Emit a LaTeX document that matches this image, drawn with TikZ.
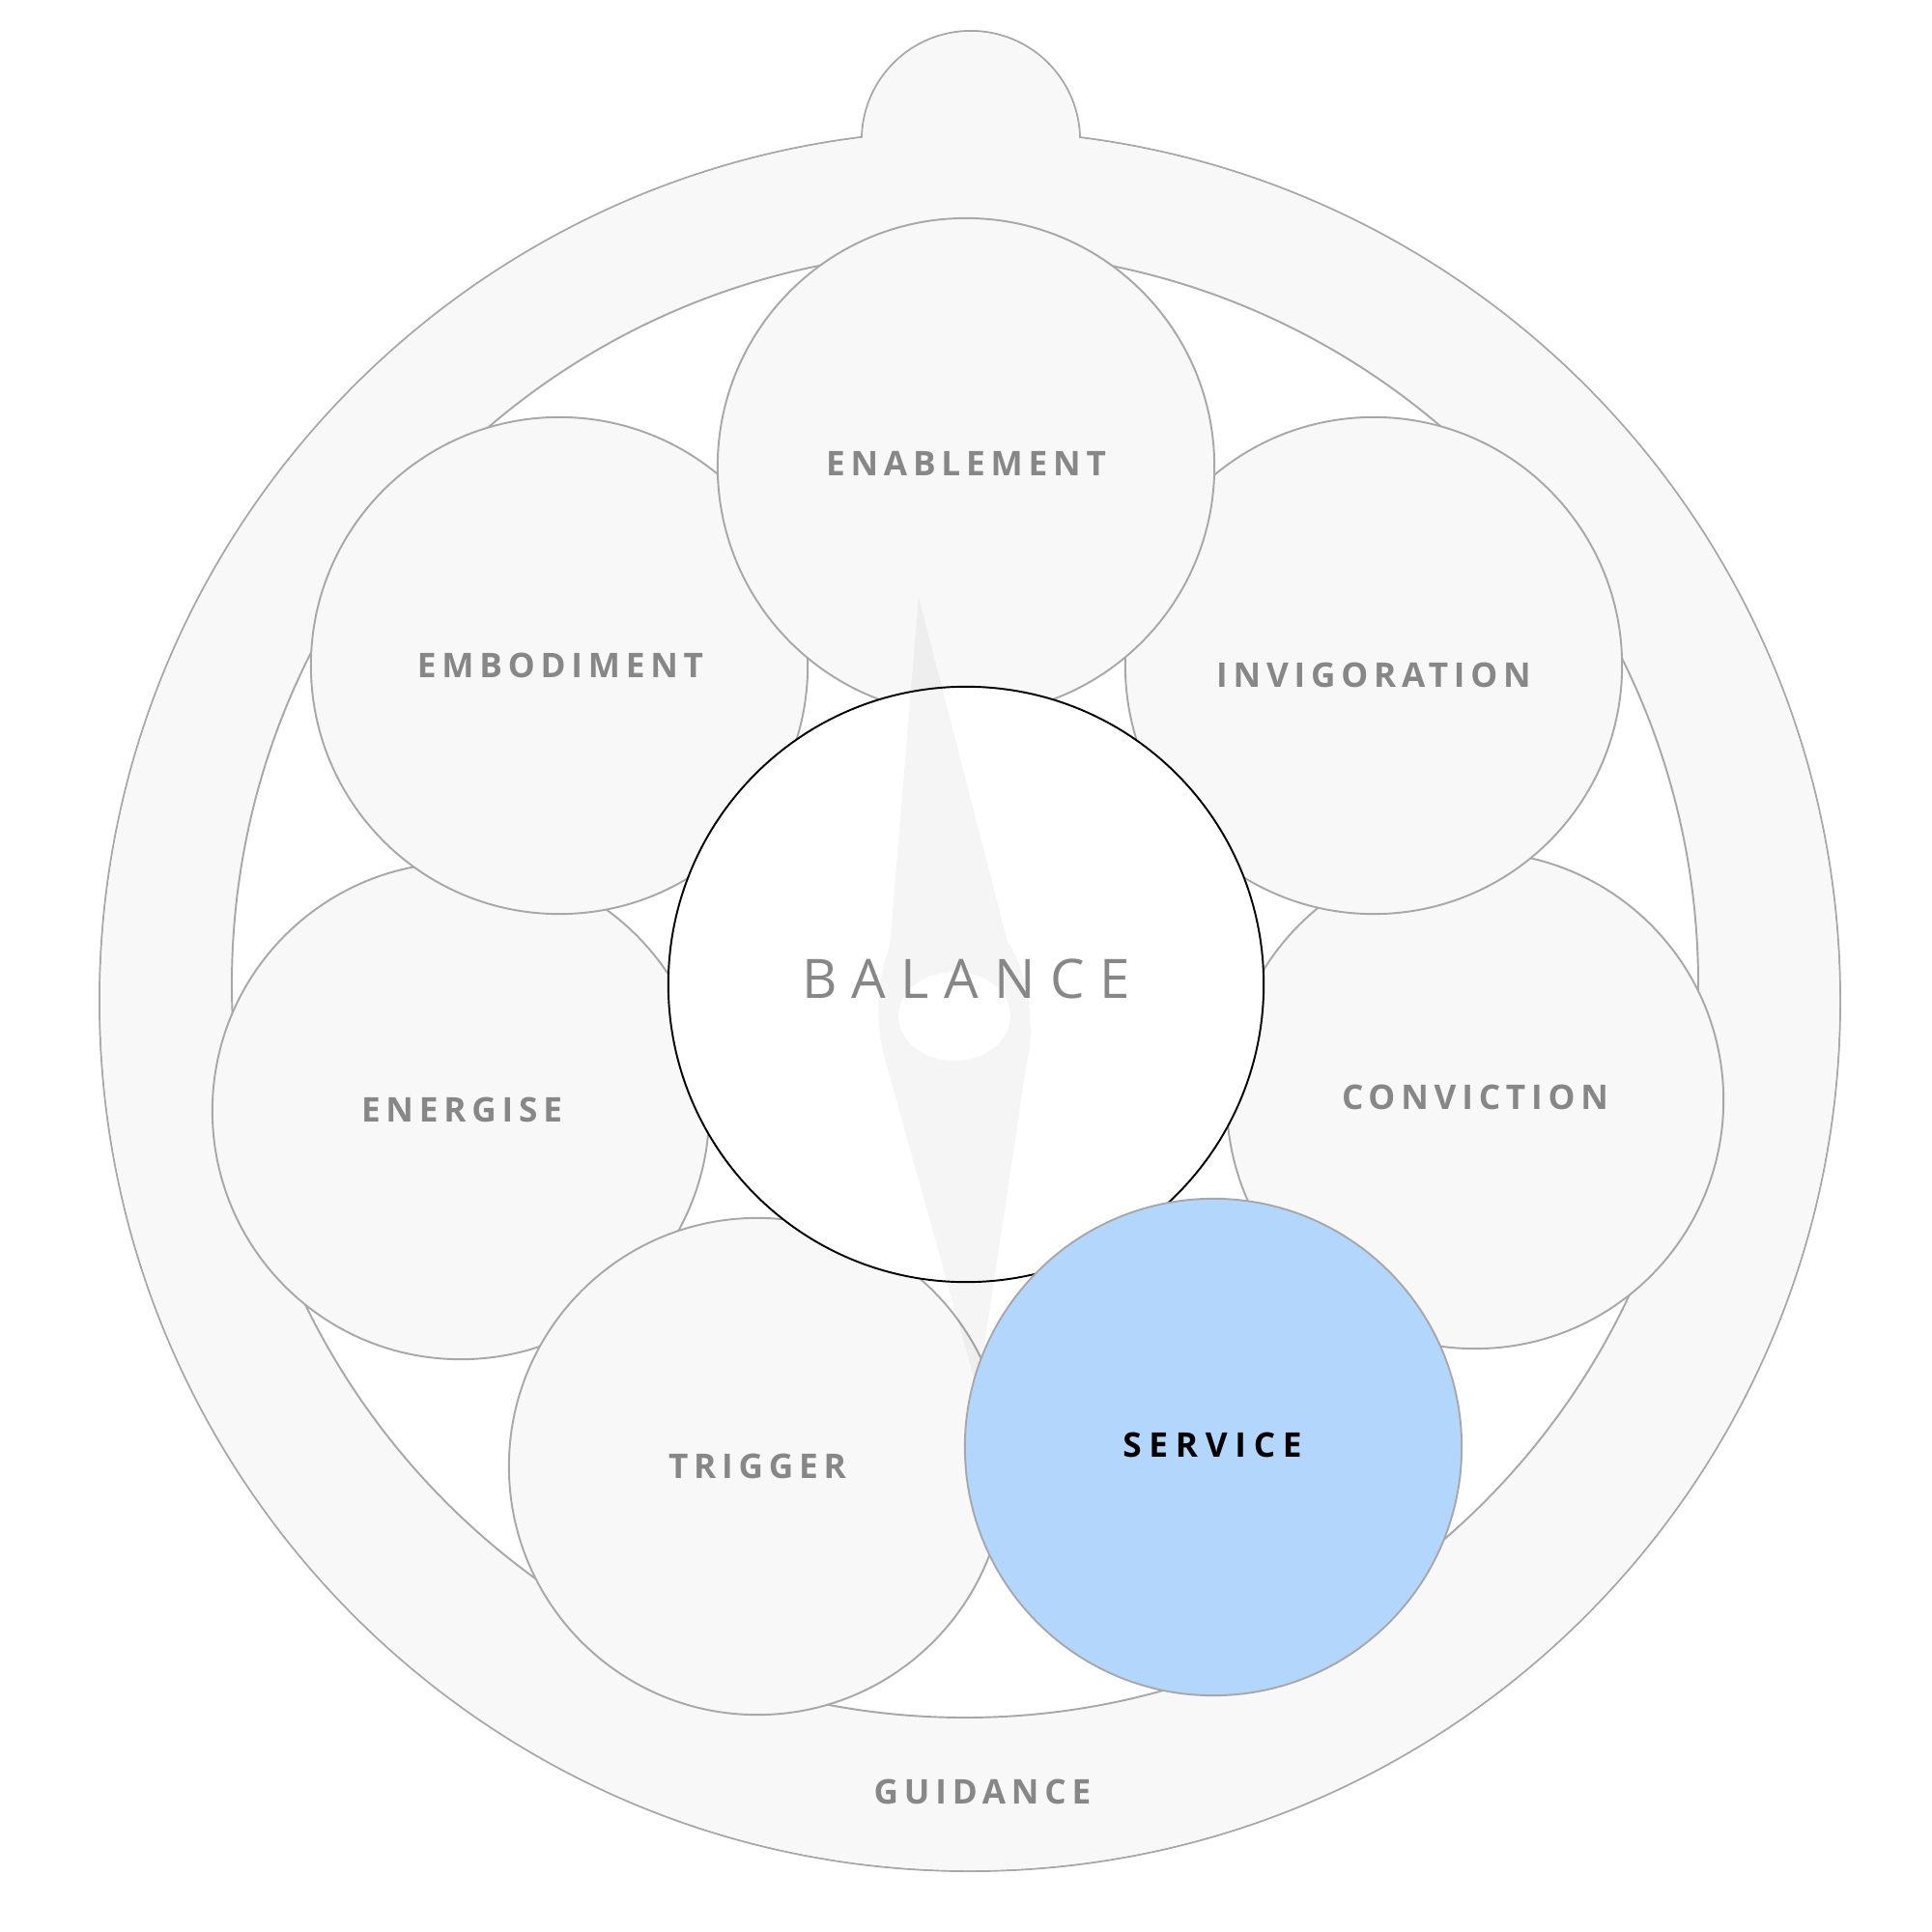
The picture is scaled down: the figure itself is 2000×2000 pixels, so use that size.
\documentclass[tikz,border=0pt]{standalone}
\usepackage{fontspec}
\setmainfont{Open Sans}
\newfontfamily\lblfont[LetterSpace=16.5]{Open Sans}
\newfontfamily\svcfont[LetterSpace=22]{Open Sans}
\newfontfamily\balfont[LetterSpace=28]{Open Sans}
\definecolor{ringfill}{HTML}{F8F8F8}
\definecolor{ringline}{HTML}{A8A8A8}
\definecolor{lblgray}{HTML}{878787}
\definecolor{svcblue}{HTML}{B3D6FD}
\begin{document}
\begin{tikzpicture}[x=0.01cm,y=-0.01cm,
  circsty/.style={circle, fill=ringfill, draw=ringline, line width=0.55pt, minimum size=5.14cm, inner sep=0pt},
  lbl/.style={font=\lblfont\bfseries\fontsize{10}{12}\selectfont, text=lblgray, inner sep=0pt},
  ringline/.style={draw=ringline, line width=0.55pt},
]
\useasboundingbox[fill=white] (0,0) rectangle (2000,2000);
% ring with top bump
\fill[ringfill] (1004,1036) circle [radius=901];
\fill[ringfill] (1005,145) circle [radius=113];
\draw[ringline] (1004,1036) circle [radius=901];
\draw[ringline] (1005,145) circle [radius=113];
\fill[ringfill] (1004,1036) circle [radius=900];
\fill[ringfill] (1005,145) circle [radius=112];
\filldraw[fill=white, ringline] (999,1019) circle [radius=759];
\node[lbl] (guidanceT) at (1017,1855) {GUIDANCE};
% petals
\node[circsty] (energise) at (477,1150) {};
\node[lbl] (energiseT) at (478,1149) {ENERGISE};
\node[circsty] (conviction) at (1527,1139) {};
\node[lbl] (convictionT) at (1527,1136) {CONVICTION};
\node[circsty] (embodiment) at (579,689) {};
\node[lbl] (embodimentT) at (580,689) {EMBODIMENT};
\node[circsty] (invigoration) at (1422,689) {};
\node[lbl] (invigorationT) at (1422,699) {INVIGORATION};
\node[circsty] (enablement) at (1000,483) {};
\node[lbl] (enablementT) at (1000,480) {ENABLEMENT};
\node[circsty] (trigger) at (784,1518) {};
\node[lbl] (triggerT) at (784,1518) {TRIGGER};
% centre
\node[circle, fill=white, minimum size=6.16cm, inner sep=0pt] (balance) at (1000,1019) {};
\fill[black, opacity=0.04, even odd rule]
  (951,618) -- (921,980) .. controls (908,1010) and (905,1060) .. (917,1100)
  -- (1012,1440) -- (1063,1100) .. controls (1073,1060) and (1062,1000) .. (1043,975) -- cycle
  (988,1052) ellipse [x radius=58, y radius=46];
\node[circle, draw=black, line width=0.55pt, minimum size=6.16cm, inner sep=0pt] (balanceRing) at (balance.center) {};
\node[font=\balfont\fontsize{16}{18}\selectfont, text=lblgray, inner sep=0pt] (balanceT) at (1000,1013) {BALANCE};
% active petal
\node[circsty, fill=svcblue] (service) at (1256,1498) {};
\node[font=\svcfont\bfseries\fontsize{10}{12}\selectfont, text=black, inner sep=0pt] (serviceT) at (1255,1496) {SERVICE};
\end{tikzpicture}
\end{document}
